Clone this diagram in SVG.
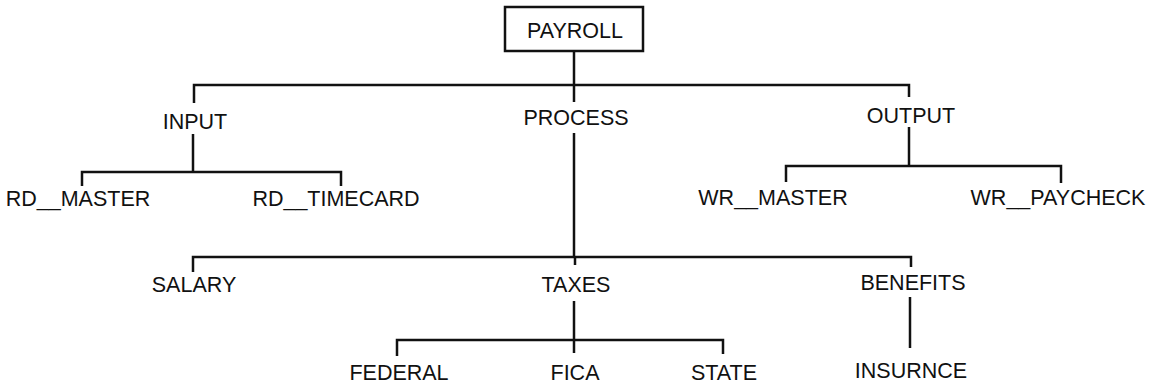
<svg xmlns="http://www.w3.org/2000/svg" width="1153" height="387" viewBox="0 0 1153 387">
<style>
text{font-family:"Liberation Sans",Arial,sans-serif;font-size:21.5px;fill:#111;text-anchor:middle}
.c line,.c path{stroke:#111;stroke-width:2.5;fill:none;stroke-linecap:butt}
.box{fill:#fff;stroke:#111;stroke-width:2.5}
</style>
<rect width="1153" height="387" fill="#fff"/>
<g class="c" id="connectors">
<path d="M574,51 V102"/>
<path d="M194,103 V85 H909 V97"/>
<path d="M574,133 V257"/>
<path d="M193,134 V172"/>
<path d="M82,186 V172 H341 V186"/>
<path d="M909,127 V166"/>
<path d="M786,182 V166 H1061 V183"/>
<path d="M193,272 V257 H911 V267"/>
<path d="M575,257 V265"/>
<path d="M574,301 V353"/>
<path d="M397,356 V340 H723 V354"/>
<path d="M910,297 V348"/>
</g>
<g id="payroll"><rect class="box" x="505" y="7" width="138" height="44"/><text x="575" y="38">PAYROLL</text></g>
<g id="input"><text x="195" y="129">INPUT</text></g>
<g id="process"><text x="576" y="125">PROCESS</text></g>
<g id="output"><text x="911" y="123">OUTPUT</text></g>
<g id="rd_master"><text x="78" y="206">RD__MASTER</text></g>
<g id="rd_timecard"><text x="336" y="206">RD__TIMECARD</text></g>
<g id="wr_master"><text x="773" y="205">WR__MASTER</text></g>
<g id="wr_paycheck"><text x="1058" y="205">WR__PAYCHECK</text></g>
<g id="salary"><text x="194" y="292">SALARY</text></g>
<g id="taxes"><text x="576" y="292">TAXES</text></g>
<g id="benefits"><text x="913" y="290">BENEFITS</text></g>
<g id="federal"><text x="399" y="380">FEDERAL</text></g>
<g id="fica"><text x="575" y="380">FICA</text></g>
<g id="state"><text x="724" y="380">STATE</text></g>
<g id="insurnce"><text x="911" y="378">INSURNCE</text></g>
</svg>
